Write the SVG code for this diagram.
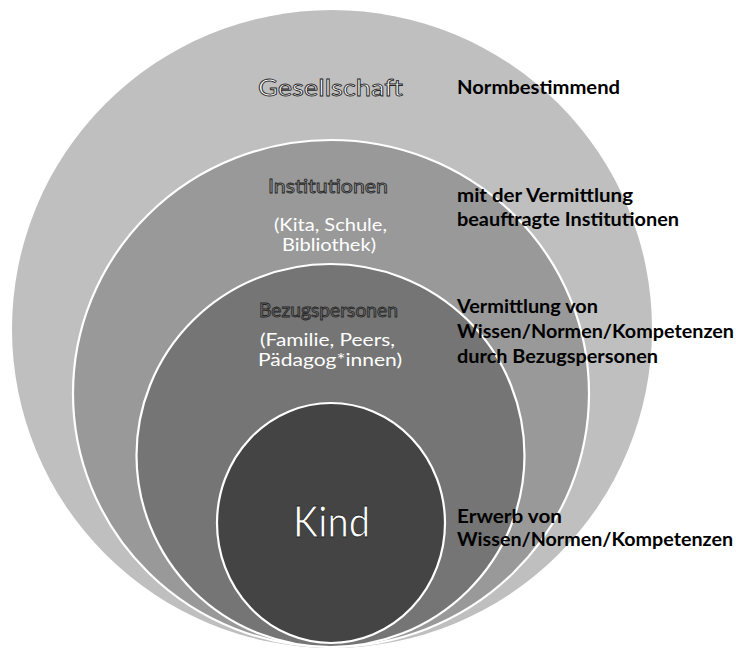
<svg xmlns="http://www.w3.org/2000/svg" width="736" height="652" viewBox="0 0 736 652">
  <style>
    .ring { stroke: #ffffff; stroke-width: 2.2; }
    .title { font-family: Lato, "Open Sans", "DejaVu Sans", sans-serif; text-anchor: middle; stroke: #262626; stroke-width: 0.85; }
    .sub { font-family: Lato, "Open Sans", "DejaVu Sans", sans-serif; text-anchor: middle; fill: #ffffff; font-size: 17.5px; }
    .note { font-family: Lato, "Open Sans", "DejaVu Sans", sans-serif; font-weight: bold; fill: #000000; font-size: 18px; }
  </style>
  <rect x="0" y="0" width="736" height="652" fill="#ffffff"/>

  <g id="gesellschaft">
    <ellipse cx="332" cy="329" rx="320" ry="319" fill="#bfbfbf"/>
    <text class="title" x="330.5" y="96" font-size="23" fill="#ffffff" stroke-width="1.1" textLength="145" lengthAdjust="spacingAndGlyphs">Gesellschaft</text>
  </g>

  <g id="institutionen">
    <ellipse class="ring" cx="331" cy="393.5" rx="258" ry="253.5" fill="#999999"/>
    <text class="title" x="328" y="193" font-size="20" fill="#999999" textLength="120" lengthAdjust="spacingAndGlyphs">Institutionen</text>
    <text class="sub" x="330.5" y="231" textLength="113" lengthAdjust="spacingAndGlyphs">(Kita, Schule,</text>
    <text class="sub" x="329" y="251" textLength="94" lengthAdjust="spacingAndGlyphs">Bibliothek)</text>
  </g>

  <g id="bezugspersonen">
    <ellipse class="ring" cx="330.5" cy="455.5" rx="194" ry="191.5" fill="#757575"/>
    <text class="title" x="328.5" y="317" font-size="19" fill="#777777" textLength="139" lengthAdjust="spacingAndGlyphs">Bezugspersonen</text>
    <text class="sub" x="327.5" y="346" textLength="135" lengthAdjust="spacingAndGlyphs">(Familie, Peers,</text>
    <text class="sub" x="330" y="366" textLength="144" lengthAdjust="spacingAndGlyphs">Pädagog*innen)</text>
  </g>

  <g id="kind">
    <ellipse class="ring" cx="331" cy="523" rx="114" ry="120" fill="#444444"/>
    <text class="title" x="331.5" y="537" font-size="42" fill="#ffffff" stroke-width="0.6" textLength="77" lengthAdjust="spacingAndGlyphs">Kind</text>
  </g>

  <g id="labels">
    <text class="note" x="457" y="94" textLength="163" lengthAdjust="spacingAndGlyphs">Normbestimmend</text>
    <text class="note" x="457" y="202" textLength="176" lengthAdjust="spacingAndGlyphs">mit der Vermittlung</text>
    <text class="note" x="457" y="226" textLength="222" lengthAdjust="spacingAndGlyphs">beauftragte Institutionen</text>
    <text class="note" x="457" y="313" textLength="141" lengthAdjust="spacingAndGlyphs">Vermittlung von</text>
    <text class="note" x="457" y="338" textLength="277" lengthAdjust="spacingAndGlyphs">Wissen/Normen/Kompetenzen</text>
    <text class="note" x="457" y="363" textLength="201" lengthAdjust="spacingAndGlyphs">durch Bezugspersonen</text>
    <text class="note" x="457" y="523" textLength="105" lengthAdjust="spacingAndGlyphs">Erwerb von</text>
    <text class="note" x="457" y="546" textLength="276" lengthAdjust="spacingAndGlyphs">Wissen/Normen/Kompetenzen</text>
  </g>

  <g id="connectors"/>
</svg>
